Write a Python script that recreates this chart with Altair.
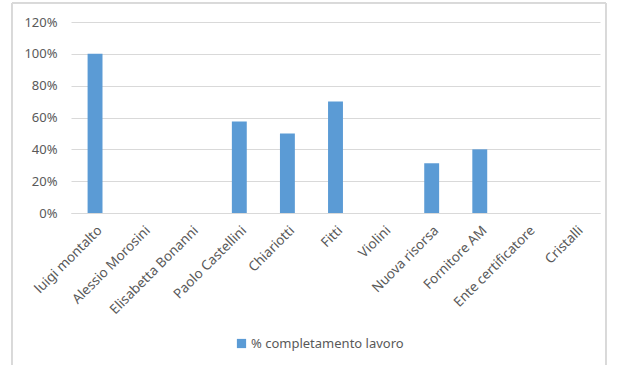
import altair as alt
import pandas as pd

categories = ["luigi montalto", "Alessio Morosini", "Elisabetta Bonanni", "Paolo Castellini",
              "Chiariotti", "Fitti", "Violini", "Nuova risorsa", "Fornitore AM",
              "Ente certificatore", "Cristalli"]
values = [1.00, 0.0, 0.0, 0.575, 0.50, 0.70, 0.0, 0.3125, 0.40, 0.0, 0.0]
series_name = "% completamento lavoro"

df = pd.DataFrame({"cat": categories, "val": values, "series": series_name})

FONT = "Noto Sans"
GRAY = "#595959"

bars = alt.Chart(df).mark_bar(color="#5b9bd5").encode(
    x=alt.X("cat:N", sort=categories, title=None,
            scale=alt.Scale(paddingInner=0.69, paddingOuter=0.345),
            axis=alt.Axis(labelAngle=-45, labelAlign="right", labelBaseline="top",
                          labelFont=FONT, labelFontSize=13.5, labelColor=GRAY,
                          ticks=False, domain=True, domainColor="#d9d9d9",
                          labelPadding=10, grid=False, labelLimit=300)),
    y=alt.Y("val:Q", title=None,
            scale=alt.Scale(domain=[0, 1.2], nice=False),
            axis=alt.Axis(format=".0%", values=[0, 0.2, 0.4, 0.6, 0.8, 1.0, 1.2],
                          labelFont=FONT, labelFontSize=13, labelColor=GRAY,
                          ticks=False, domain=False, gridColor="#d9d9d9",
                          labelPadding=14)),
    fill=alt.Fill("series:N", scale=alt.Scale(range=["#5b9bd5"]),
                  legend=alt.Legend(title=None, orient="none", legendX=164, legendY=315,
                                    symbolType="square", symbolSize=85, labelOffset=3,
                                    labelFont=FONT, labelFontSize=13, labelColor="#595959")),
)

border = alt.Chart(df).mark_rect(fill=None, stroke="#d9d9d9", strokeWidth=1).encode(
    x=alt.value(-59), x2=alt.value(535), y=alt.value(-19), y2=alt.value(380)
)

chart = alt.layer(border, bars).properties(
    width=529, height=191,
    padding={"left": 71, "top": 22, "right": 19, "bottom": 152},
    autosize=alt.AutoSizeParams(type="none"),
    background="white",
).configure_view(stroke=None)

chart.save("out.html", embed_options={"renderer": "svg", "actions": False})
